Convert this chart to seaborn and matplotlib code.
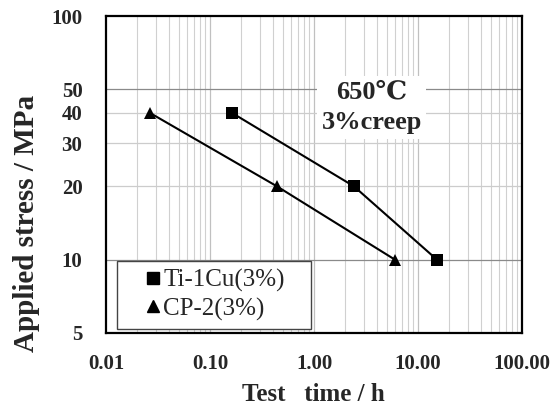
import numpy as np
import pandas as pd
import matplotlib
matplotlib.use('Agg')
import matplotlib.pyplot as plt
import seaborn as sns
from matplotlib.lines import Line2D
from matplotlib.patches import Rectangle
from matplotlib.ticker import FixedLocator, NullFormatter

# dados
ti_time = [0.163, 2.42, 15.2]
ti_stress = [40, 20, 10]
cp_time = [0.0265, 0.44, 6.0]
cp_stress = [40, 20, 10]
series_names = ['Ti-1Cu(3%)', 'CP-2(3%)']
x_ticks = [0.01, 0.1, 1, 10, 100]
x_ticklabels = ['0.01', '0.10', '1.00', '10.00', '100.00']
y_ticks = [5, 10, 20, 30, 40, 50, 100]
y_ticklabels = ['5', '10', '20', '30', '40', '50', '100']

df = pd.DataFrame({
    'time': ti_time + cp_time,
    'stress': ti_stress + cp_stress,
    'serie': [series_names[0]] * 3 + [series_names[1]] * 3,
})

sns.set_style('white')
plt.rcParams['font.family'] = ['Liberation Serif', 'DejaVu Serif']

fig = plt.figure(figsize=(5.58, 4.07), dpi=100)
ax = fig.add_axes([106/558, 1 - 333/407, 416/558, 317/407])

ax.set_xscale('log')
ax.set_yscale('log')
ax.set_xlim(0.01, 100)
ax.set_ylim(5, 100)

# grade
minor_x = [m * 10.0**e for e in range(-2, 2) for m in range(2, 10)]
for v in minor_x:
    ax.axvline(v, color='#d0d0d0', lw=0.8, zorder=0)
for v in [0.1, 1, 10]:
    ax.axvline(v, color='#c0c0c0', lw=0.9, zorder=0)
for v in [20, 30, 40]:
    ax.axhline(v, color='#cccccc', lw=0.9, zorder=0)
for v in [10, 50]:
    ax.axhline(v, color='#8a8a8a', lw=0.9, zorder=0)

sns.lineplot(data=df, x='time', y='stress', hue='serie', style='serie',
             markers={series_names[0]: 's', series_names[1]: '^'}, dashes=False,
             palette={series_names[0]: 'black', series_names[1]: 'black'},
             markersize=9, markeredgewidth=0, lw=1.5, ax=ax, legend=False, zorder=3)

ax.xaxis.set_major_locator(FixedLocator(x_ticks))
ax.xaxis.set_minor_locator(FixedLocator([]))
ax.yaxis.set_major_locator(FixedLocator(y_ticks))
ax.yaxis.set_minor_locator(FixedLocator([]))
ax.set_xticklabels(x_ticklabels, fontweight='bold', fontsize=15)
ax.set_yticklabels(y_ticklabels, fontweight='bold', fontsize=15)
ax.xaxis.set_minor_formatter(NullFormatter())
ax.yaxis.set_minor_formatter(NullFormatter())
ax.tick_params(axis='x', which='both', length=0, pad=15)
ax.tick_params(axis='y', which='both', length=0, pad=17)

for s in ax.spines.values():
    s.set_color('black')
    s.set_linewidth(1.6)

ax.set_xlabel('Test   time / h', fontsize=18, fontweight='bold')
ax.set_ylabel('Applied stress / MPa', fontsize=21, fontweight='bold')
ax.xaxis.set_label_coords(0.498, -0.158)
ax.yaxis.set_label_coords(-0.158, 0.347)

ax.text(0.639, 0.712, '650℃\n3%creep', transform=ax.transAxes, fontsize=19,
        fontweight='bold', ha='center', va='center', linespacing=1.45,
        bbox=dict(facecolor='white', edgecolor='none', pad=3), zorder=2)

# legenda: caixa desenhada à parte
ax.add_patch(Rectangle((0.026, 0.0126), 0.466, 0.2145, transform=ax.transAxes,
                       facecolor='white', edgecolor='#444444', lw=1.0, zorder=4))
handles = [Line2D([], [], marker='s', color='black', ls='none', markersize=9),
           Line2D([], [], marker='^', color='black', ls='none', markersize=9)]
leg = ax.legend(handles, series_names, loc='center left', bbox_to_anchor=(0.096, 0.12),
                fontsize=18, frameon=False, handletextpad=0.1,
                handlelength=0.6, borderpad=0, labelspacing=0.2, borderaxespad=0)
leg.set_zorder(5)

plt.savefig('out.png', dpi=100)
